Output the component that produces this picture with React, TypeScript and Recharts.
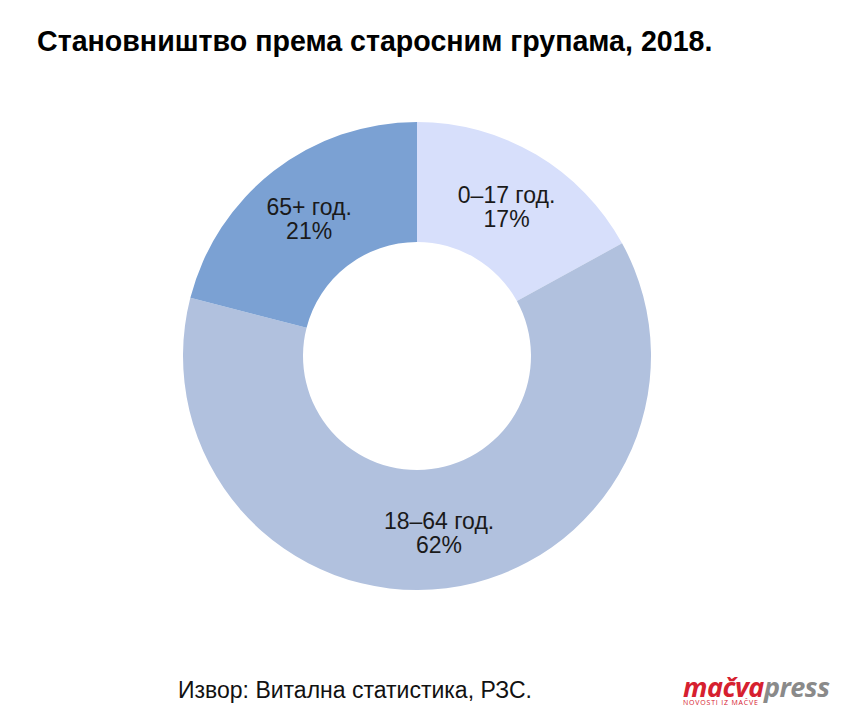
import React from "react";
import { PieChart, Pie, Cell } from "recharts";

const categories = ["0–17 год.", "18–64 год.", "65+ год."];
const shares = [17, 62, 21];
const colors = ["#d7dffb", "#b1c1de", "#7ba1d3"];

const TITLE = "Становништво према старосним групама, 2018.";
const SOURCE = "Извор: Витална статистика, РЗС.";

const data = categories.map((name, i) => ({ name, value: shares[i] }));

const RAD = Math.PI / 180;

const renderLabel = (props: any) => {
  const { cx, cy, midAngle, innerRadius, outerRadius, name, value } = props;
  const r = (innerRadius + outerRadius) / 2 + 2;
  const a = midAngle * RAD;
  const x = cx + r * Math.cos(a);
  const y = cy - r * Math.sin(a);
  return (
    <text
      x={x}
      y={y}
      textAnchor="middle"
      fill="#1a1a1a"
      style={{ fontFamily: "'Liberation Sans', Arial, sans-serif", fontSize: 23 }}
    >
      <tspan x={x} dy={-2}>{name}</tspan>
      <tspan x={x} dy={24.5}>{`${value}%`}</tspan>
    </text>
  );
};

export default function App() {
  return (
    <div
      style={{
        position: "absolute",
        left: 0,
        top: 0,
        width: 842,
        height: 720,
        background: "#ffffff",
        overflow: "hidden",
        fontFamily: "'Liberation Sans', Arial, sans-serif",
      }}
    >
      <div
        style={{
          position: "absolute",
          left: 37,
          top: 24,
          fontSize: 28.6,
          fontWeight: "bold",
          color: "#000",
          whiteSpace: "nowrap",
          lineHeight: "34px",
        }}
      >
        {TITLE}
      </div>
      <div style={{ position: "absolute", left: 0, top: 0 }}>
        <PieChart width={842} height={720} margin={{ top: 0, right: 0, bottom: 0, left: 0 }}>
          <Pie
            data={data}
            dataKey="value"
            nameKey="name"
            cx={417}
            cy={356}
            innerRadius={114}
            outerRadius={234}
            startAngle={90}
            endAngle={-270}
            stroke="none"
            label={renderLabel}
            labelLine={false}
            isAnimationActive={false}
          >
            {data.map((d, i) => (
              <Cell key={d.name} fill={colors[i]} />
            ))}
          </Pie>
        </PieChart>
      </div>
      <div
        style={{
          position: "absolute",
          left: 178,
          top: 678,
          fontSize: 23,
          color: "#111",
          whiteSpace: "nowrap",
          lineHeight: "24px",
        }}
      >
        {SOURCE}
      </div>
      <div
        style={{
          position: "absolute",
          left: 683,
          top: 676,
          whiteSpace: "nowrap",
          fontFamily: "'Open Sans', 'Liberation Sans', sans-serif",
          fontStyle: "italic",
          fontWeight: "bold",
        }}
      >
        <div style={{ fontSize: 27, lineHeight: "22px", letterSpacing: -0.5 }}>
          <span style={{ color: "#d6202f" }}>mačva</span>
          <span style={{ color: "#8a8a8a" }}>press</span>
        </div>
        <div
          style={{
            fontSize: 7,
            lineHeight: "8px",
            color: "#d6202f",
            fontStyle: "normal",
            fontWeight: "normal",
            letterSpacing: 0.8,
            marginTop: 1,
          }}
        >
          NOVOSTI IZ MAČVE
        </div>
      </div>
    </div>
  );
}
